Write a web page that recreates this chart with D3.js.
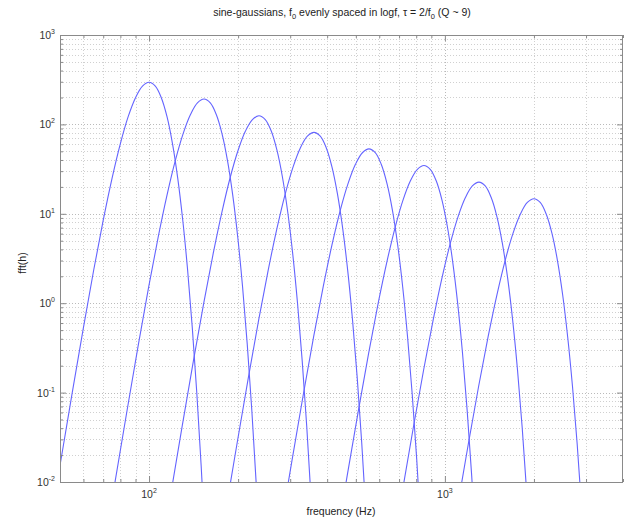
<!DOCTYPE html>
<html>
<head>
<meta charset="utf-8">
<script src="https://cdn.jsdelivr.net/npm/d3@7"></script>
<style>
  html, body { margin: 0; padding: 0; background: #fff; }
  svg { display: block; font-family: "Liberation Sans", Arial, Helvetica, sans-serif; }
</style>
</head>
<body>
<svg id="chart" width="625" height="521"></svg>
<script>
// ---- data ----
const centerFreqs = [100, 153.4, 235.3, 361.0, 553.9, 849.7, 1303.6, 2000];
const freqRatios = [0.45, 0.5, 0.55, 0.6, 0.65, 0.7, 0.75, 0.8, 0.85, 0.9, 0.95, 1,
                    1.05, 1.1, 1.15, 1.2, 1.25, 1.3, 1.35, 1.4, 1.45, 1.5, 1.55];
const curve1 = [0.00192, 0.0153, 0.0998, 0.533, 2.35, 8.48, 25.1, 61.0, 122, 199, 268, 296,
                268, 199, 122, 61.0, 25.1, 8.48, 2.35, 0.533, 0.0998, 0.0153, 0.00192];
const curve2 = [0.00125, 0.00993, 0.0647, 0.346, 1.52, 5.50, 16.3, 39.6, 79.0, 129, 174, 192,
                174, 129, 79.0, 39.6, 16.3, 5.50, 1.52, 0.346, 0.0647, 0.00993, 0.00125];
const curve3 = [0.000813, 0.00646, 0.0421, 0.225, 0.991, 3.58, 10.6, 25.8, 51.4, 84.2, 113, 125,
                113, 84.2, 51.4, 25.8, 10.6, 3.58, 0.991, 0.225, 0.0421, 0.00646, 0.000813];
const curve4 = [0.00053, 0.00421, 0.0275, 0.147, 0.646, 2.33, 6.91, 16.8, 33.5, 54.9, 73.8, 81.5,
                73.8, 54.9, 33.5, 16.8, 6.91, 2.33, 0.646, 0.147, 0.0275, 0.00421, 0.00053];
const curve5 = [0.000346, 0.00275, 0.0179, 0.0958, 0.422, 1.52, 4.51, 11.0, 21.9, 35.8, 48.2, 53.2,
                48.2, 35.8, 21.9, 11.0, 4.51, 1.52, 0.422, 0.0958, 0.0179, 0.00275, 0.000346];
const curve6 = [0.000226, 0.00179, 0.0117, 0.0625, 0.275, 0.994, 2.94, 7.16, 14.3, 23.4, 31.4, 34.7,
                31.4, 23.4, 14.3, 7.16, 2.94, 0.994, 0.275, 0.0625, 0.0117, 0.00179, 0.000226];
const curve7 = [0.000147, 0.00117, 0.00762, 0.0407, 0.179, 0.647, 1.92, 4.66, 9.30, 15.2, 20.5, 22.6,
                20.5, 15.2, 9.30, 4.66, 1.92, 0.647, 0.179, 0.0407, 0.00762, 0.00117, 0.000147];
const curve8 = [0.000096, 0.000763, 0.00497, 0.0266, 0.117, 0.422, 1.25, 3.04, 6.07, 9.94, 13.4, 14.75,
                13.4, 9.94, 6.07, 3.04, 1.25, 0.422, 0.117, 0.0266, 0.00497, 0.000763, 0.000096];
const curves = [curve1, curve2, curve3, curve4, curve5, curve6, curve7, curve8];

const xDomain = [50, 4000];
const yDomain = [0.01, 1000];
const xTickValues = [100, 1000];
const xTickExps = ["2", "3"];
const yTickValues = [0.01, 0.1, 1, 10, 100, 1000];
const yTickExps = ["-2", "-1", "0", "1", "2", "3"];

const titleText = "sine-gaussians, f";
const xLabel = "frequency (Hz)";
const yLabel = "fft(h)";

// ---- layout ----
const svg = d3.select("#chart");
const m = { left: 60, top: 35, right: 623, bottom: 482 };
const x = d3.scaleLog().domain(xDomain).range([m.left, m.right]);
const y = d3.scaleLog().domain(yDomain).range([m.bottom, m.top]);

// minor tick positions
function logMinor(lo, hi) {
  const out = [];
  for (let e = Math.floor(Math.log10(lo)); e <= Math.ceil(Math.log10(hi)); e++) {
    for (let k = 1; k <= 9; k++) {
      const v = k * Math.pow(10, e);
      if (v >= lo * 0.9999 && v <= hi * 1.0001) out.push(v);
    }
  }
  return out;
}
const xAll = logMinor(xDomain[0], xDomain[1]);
const yAll = logMinor(yDomain[0], yDomain[1]);
const isMajor = v => Math.abs(Math.log10(v) - Math.round(Math.log10(v))) < 1e-6;

// grid
const grid = svg.append("g").attr("stroke-width", 0.8)
  .attr("stroke-dasharray", "1,2").attr("fill", "none");
grid.selectAll("line.gx").data(xAll.filter(v => v > xDomain[0] && v < xDomain[1])).join("line")
  .attr("x1", d => Math.round(x(d)) + 0.5).attr("x2", d => Math.round(x(d)) + 0.5)
  .attr("y1", m.top).attr("y2", m.bottom)
  .attr("stroke", d => isMajor(d) ? "#a8a8a8" : "#c4c4c4");
grid.selectAll("line.gy").data(yAll.filter(v => v > yDomain[0] && v < yDomain[1])).join("line")
  .attr("y1", d => Math.round(y(d)) + 0.5).attr("y2", d => Math.round(y(d)) + 0.5)
  .attr("x1", m.left).attr("x2", m.right)
  .attr("stroke", d => isMajor(d) ? "#a8a8a8" : "#c4c4c4");

// curves
svg.append("clipPath").attr("id", "clip").append("rect")
  .attr("x", m.left).attr("y", m.top).attr("width", m.right - m.left).attr("height", m.bottom - m.top);
const line = d3.line().x(d => x(d[0])).y(d => y(d[1])).curve(d3.curveCatmullRom);
const cg = svg.append("g").attr("clip-path", "url(#clip)");
curves.forEach((vals, i) => {
  const pts = freqRatios.map((r, j) => [r * centerFreqs[i], vals[j]]);
  cg.append("path").attr("d", line(pts)).attr("fill", "none")
    .attr("stroke", "#6464ff").attr("stroke-width", 1.1);
});

// axes box
const axisColor = "#8a8a8a";
svg.append("rect").attr("x", m.left + 0.5).attr("y", m.top + 0.5)
  .attr("width", m.right - m.left - 1).attr("height", m.bottom - m.top)
  .attr("fill", "none").attr("stroke", axisColor).attr("stroke-width", 1);

// ticks (inward, all four sides) via d3 axes
function styleAxis(g) {
  g.select(".domain").remove();
  g.selectAll(".tick line").attr("stroke", axisColor);
  g.selectAll(".tick text").remove();
}
const xMinor = xAll.filter(v => !isMajor(v));
const yMinor = yAll.filter(v => !isMajor(v));
svg.append("g").attr("transform", `translate(0,${m.bottom})`)
  .call(d3.axisTop(x).tickValues(xTickValues).tickSize(6)).call(styleAxis);
svg.append("g").attr("transform", `translate(0,${m.bottom})`)
  .call(d3.axisTop(x).tickValues(xMinor).tickSize(3)).call(styleAxis);
svg.append("g").attr("transform", `translate(0,${m.top})`)
  .call(d3.axisBottom(x).tickValues(xTickValues).tickSize(6)).call(styleAxis);
svg.append("g").attr("transform", `translate(0,${m.top})`)
  .call(d3.axisBottom(x).tickValues(xMinor).tickSize(3)).call(styleAxis);
svg.append("g").attr("transform", `translate(${m.left},0)`)
  .call(d3.axisRight(y).tickValues(yTickValues).tickSize(6)).call(styleAxis);
svg.append("g").attr("transform", `translate(${m.left},0)`)
  .call(d3.axisRight(y).tickValues(yMinor).tickSize(3)).call(styleAxis);
svg.append("g").attr("transform", `translate(${m.right},0)`)
  .call(d3.axisLeft(y).tickValues(yTickValues).tickSize(6)).call(styleAxis);
svg.append("g").attr("transform", `translate(${m.right},0)`)
  .call(d3.axisLeft(y).tickValues(yMinor).tickSize(3)).call(styleAxis);

// tick labels
const lblColor = "#333";
xTickValues.forEach((v, i) => {
  const t = svg.append("text").attr("x", x(v)).attr("y", m.bottom + 16)
    .attr("text-anchor", "middle").attr("font-size", 10.5).attr("fill", lblColor);
  t.append("tspan").text("10");
  t.append("tspan").attr("dy", -5).attr("font-size", 7).text(xTickExps[i]);
});
yTickValues.forEach((v, i) => {
  const t = svg.append("text").attr("x", m.left - 5).attr("y", y(v) + 4)
    .attr("text-anchor", "end").attr("font-size", 10.5).attr("fill", lblColor);
  t.append("tspan").text("10");
  t.append("tspan").attr("dy", -5).attr("font-size", 7).text(yTickExps[i]);
});

// title
const title = svg.append("text").attr("x", 342).attr("y", 16).attr("text-anchor", "middle")
  .attr("font-size", 10.5).attr("fill", "#222");
title.append("tspan").text(titleText);
title.append("tspan").attr("dy", 3).attr("font-size", 7.5).text("0");
title.append("tspan").attr("dy", -3).text(" evenly spaced in logf, \u03C4 = 2/f");
title.append("tspan").attr("dy", 3).attr("font-size", 7.5).text("0");
title.append("tspan").attr("dy", -3).text(" (Q ~ 9)");

// axis labels
svg.append("text").attr("x", 341).attr("y", 515).attr("text-anchor", "middle")
  .attr("font-size", 10.5).attr("fill", "#222").text(xLabel);
svg.append("text").attr("transform", "translate(26,263) rotate(-90)")
  .attr("text-anchor", "middle").attr("font-size", 10.5).attr("fill", "#222").text(yLabel);
</script>
</body>
</html>
